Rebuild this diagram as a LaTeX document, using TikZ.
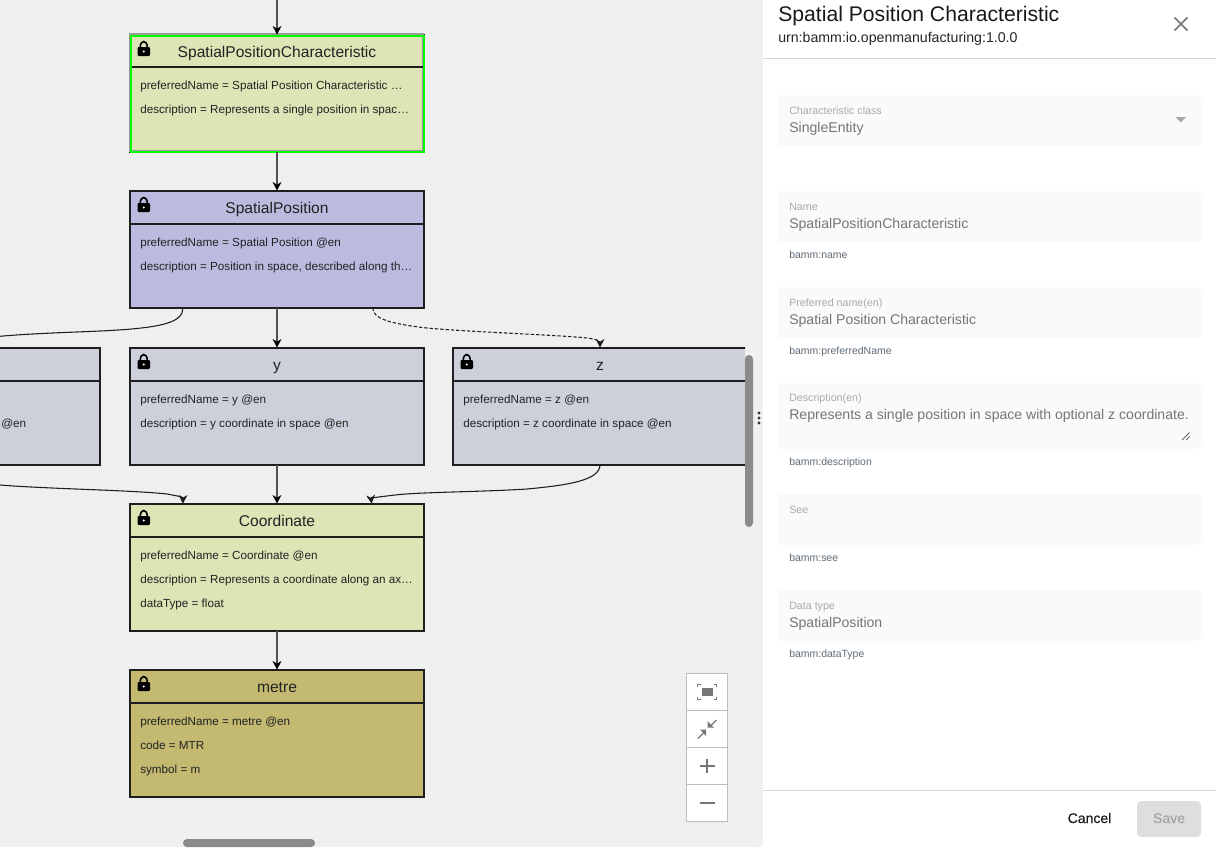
\documentclass[tikz,border=0pt]{standalone}
\usepackage{fontspec}
\setmainfont{Liberation Sans}
\newfontfamily\mediumfont[FakeBold=0.25]{Liberation Sans}
\usetikzlibrary{arrows.meta,calc}
\definecolor{canvasbg}{HTML}{EFEFEF}
\definecolor{stripbg}{HTML}{F0F0F0}
\definecolor{charfill}{HTML}{DDE4B6}
\definecolor{entfill}{HTML}{BBBBE0}
\definecolor{propfill}{HTML}{CDD0DA}
\definecolor{unitfill}{HTML}{C3B971}
\definecolor{edgecol}{HTML}{1E1E1E}
\definecolor{vertcol}{HTML}{505050}
\definecolor{txtcol}{HTML}{222222}
\definecolor{fieldbg}{HTML}{FAFAFA}
\definecolor{lblcol}{HTML}{A9A9A9}
\definecolor{valcol}{HTML}{757575}
\definecolor{hintcol}{HTML}{5F6B75}
\definecolor{rulecol}{HTML}{D6D6D6}
\definecolor{barcol}{HTML}{8A8A8A}
\definecolor{ctlborder}{HTML}{BDBDBD}
\definecolor{ctlicon}{HTML}{777777}
\definecolor{savebg}{HTML}{DEDEDE}
\definecolor{savetx}{HTML}{A3A3A3}
\definecolor{framegray}{HTML}{9A9A9A}
\definecolor{framegreen}{HTML}{00FF00}
\tikzset{
  umlbox/.style={draw=edgecol,line width=1.5pt,inner sep=0pt,outer sep=0pt,minimum width=220.5pt},
  boxtitle/.style={anchor=base,inner sep=0pt,text=txtcol,font=\fontsize{11.7}{14}\selectfont},
  boxprop/.style={anchor=base west,inner sep=0pt,text=txtcol,font=\fontsize{8.77}{11}\selectfont},
  conn/.style={draw=edgecol,line width=0.8pt,-{Stealth[length=6.5pt,width=6.5pt,inset=2pt]}},
  vconn/.style={draw=vertcol,line width=1pt,-{Stealth[length=6.5pt,width=6.5pt,inset=2pt,color=black]}},
  connplain/.style={draw=edgecol,line width=0.8pt},
  field/.style={draw=none,fill=fieldbg,rounded corners=3pt,inner sep=0pt,outer sep=0pt,minimum width=317.25pt},
  flabel/.style={anchor=base west,inner sep=0pt,text=lblcol,font=\fontsize{8}{10}\selectfont},
  fvalue/.style={anchor=base west,inner sep=0pt,text=valcol,font=\fontsize{10.55}{13}\selectfont},
  fhint/.style={anchor=base west,inner sep=0pt,text=hintcol,font=\fontsize{7.85}{9}\selectfont},
  ctlcell/.style={draw=ctlborder,fill=white,line width=0.8pt,minimum width=30.75pt,minimum height=27.75pt,inner sep=0pt,outer sep=0pt},
  ctlline/.style={draw=ctlicon,line width=1.4pt},
}
% name, left, top, height, header height, fill
\newcommand{\umlnode}[6]{%
  \node[umlbox,fill=#6,minimum height=(#4-1)*0.75pt] (#1) at ({#2+148},{#3+#4/2+0.2}) {};
  \draw[edgecol,line width=1.5pt] ({#2+1},{#3+#5}) -- ({#2+295},{#3+#5});
  \fill[black,rounded corners=0.8pt] ({#2+8.5},{#3+13}) rectangle ({#2+21},{#3+22});
  \draw[black,line width=1.2pt] ({#2+11.2},{#3+13.5}) .. controls ({#2+11.2},{#3+5.5}) and ({#2+18.3},{#3+5.5}) .. ({#2+18.3},{#3+13.5});
  \fill[white] ({#2+14.75},{#3+17.5}) circle (1.1);
}
\begin{document}
\begin{tikzpicture}[x=0.75pt,y=-0.75pt]
\useasboundingbox (0,0) rectangle (1216,847);
\fill[white] (0,0) rectangle (1216,847);
\fill[canvasbg] (0,0) rectangle (745,847);
\fill[stripbg] (745,0) rectangle (763,847);

\begin{scope}
\clip (0,0) rectangle (745,847);
\umlnode{spc}{129}{34}{118}{33}{charfill}
\umlnode{sp}{129}{190}{118}{34}{entfill}
\umlnode{px}{-195}{347}{118}{34}{propfill}
\umlnode{py}{129}{347}{118}{34}{propfill}
\umlnode{pz}{452}{347}{118}{34}{propfill}
\umlnode{co}{129}{503}{128}{34}{charfill}
\umlnode{me}{129}{669}{128}{34}{unitfill}
% selection frame
\draw[framegray,line width=1.5pt] (130,34.2) rectangle (423.3,151);
\draw[framegreen,line width=1.5pt] (131.2,35.5) rectangle (424,152);
\draw[edgecol,line width=1.5pt] (132.2,67) -- (423,67);

\node[boxtitle] (spc-title) at (277,57) {SpatialPositionCharacteristic};
\node[boxtitle] (sp-title) at (277,213.3) {SpatialPosition};
\node[boxtitle] (py-title) at (277,370.3) {y};
\node[boxtitle] (pz-title) at (600,370.3) {z};
\node[boxtitle] (co-title) at (277,526.3) {Coordinate};
\node[boxtitle] (me-title) at (277,692.3) {metre};

\node[boxprop] (t1) at (140,89) {preferredName = Spatial Position Characteristic …};
\node[boxprop] (t2) at (140,113) {description = Represents a single position in spac…};
\node[boxprop] (t3) at (140,246) {preferredName = Spatial Position @en};
\node[boxprop] (t4) at (140,270) {description = Position in space, described along th…};
\node[boxprop] (t5) at (1,427) {@en};
\node[boxprop] (t6) at (140,403) {preferredName = y @en};
\node[boxprop] (t7) at (140,427) {description = y coordinate in space @en};
\node[boxprop] (t8) at (463,403) {preferredName = z @en};
\node[boxprop] (t9) at (463,427) {description = z coordinate in space @en};
\node[boxprop] (t10) at (140,559) {preferredName = Coordinate @en};
\node[boxprop] (t11) at (140,583) {description = Represents a coordinate along an ax…};
\node[boxprop] (t12) at (140,607) {dataType = float};
\node[boxprop] (t13) at (140,725) {preferredName = metre @en};
\node[boxprop] (t14) at (140,749) {code = MTR};
\node[boxprop] (t15) at (140,773) {symbol = m};

\coordinate (topin) at (spc.north |- 0,-2);
\coordinate (spl) at ($(sp.south west)!0.18!(sp.south east)$);
\coordinate (spr) at ($(sp.south west)!0.826!(sp.south east)$);
\coordinate (col) at ($(co.north west)!0.18!(co.north east)$);
\coordinate (cor) at ($(co.north west)!0.822!(co.north east)$);

\draw[vconn] (topin) -- (spc.north);
\draw[vconn] (spc.south) -- (sp.north);
\draw[vconn] (sp.south) -- (py.north);
\draw[vconn] (py.south) -- (co.north);
\draw[vconn] (co.south) -- (me.north);
\draw[connplain] (spl) .. controls (183,322) and (165,328) .. (100,331) .. controls (60,333) and (-47,335) .. (px.north);
\draw[conn,dashed,dash pattern=on 2.5pt off 1.5pt] (spr) .. controls (372,319) and (392,324) .. (427,328) .. controls (470,332) and (560,335) .. (587,338) .. controls (596,339) and (600,341) .. (pz.north);
\draw[conn] (pz.south) .. controls (600,480) and (570,485) .. (527,489) .. controls (480,492) and (420,492) .. (395,495) .. controls (378,497) and (371,498) .. (cor);
\draw[conn] (px.south) .. controls (-47,475) and (-20,483) .. (0,485) .. controls (50,489) and (130,490) .. (167,494) .. controls (178,496) and (183,497) .. (col);
\end{scope}

% scrollbars
\fill[barcol,rounded corners=3pt] (745,355) rectangle (753,527);
\fill[barcol,rounded corners=3pt] (183,839) rectangle (315,847);
% split handle
\foreach \hy in {413,418,423} \fill[black!80] (759,\hy) circle (1.6);

% zoom controls
\node[ctlcell] (zfit) at (707,692) {};
\node[ctlcell] (zshrink) at (707,729) {};
\node[ctlcell] (zin) at (707,766) {};
\node[ctlcell] (zout) at (707,803) {};
\fill[ctlicon] (702,688) rectangle (713,696);
\draw[ctlicon,line width=1pt] (697.5,687) -- (697.5,684.5) -- (700.5,684.5);
\draw[ctlicon,line width=1pt] (716.5,687) -- (716.5,684.5) -- (713.5,684.5);
\draw[ctlicon,line width=1pt] (697.5,697) -- (697.5,699.5) -- (700.5,699.5);
\draw[ctlicon,line width=1pt] (716.5,697) -- (716.5,699.5) -- (713.5,699.5);
\draw[ctlicon,line width=1pt] (698,738.5) -- (704,732.5);
\draw[ctlicon,line width=1pt] (716.5,720) -- (710.5,726);
\fill[ctlicon] (700,729.5) -- (706,729.5) -- (706,736) -- cycle;
\fill[ctlicon] (707.5,721) -- (714,727.5) -- (707.5,727.5) -- cycle;
\draw[ctlline] (700,766) -- (714.5,766);
\draw[ctlline] (707.2,759) -- (707.2,773);
\draw[ctlline] (700,803) -- (714.5,803);

% side panel
\node[anchor=base west,inner sep=0pt,font=\fontsize{15.87}{18}\selectfont,text=black!90] (ptitle) at (778,21) {Spatial Position Characteristic};
\node[anchor=base west,inner sep=0pt,font=\fontsize{10.62}{13}\selectfont,text=black!85] (purn) at (778,42) {urn:bamm:io.openmanufacturing:1.0.0};
\draw[valcol,line width=1.3pt] (1174.5,17.5) -- (1187.5,30.5) (1187.5,17.5) -- (1174.5,30.5);
\draw[rulecol,line width=0.75pt] (763,58.5) -- (1216,58.5);
\draw[rulecol,line width=0.75pt] (763,790.5) -- (1216,790.5);

\node[field,minimum height=38.25pt] (f1) at (989.5,120.5) {};
\node[flabel] (f1l) at (789,114) {Characteristic class};
\node[fvalue] (f1v) at (789,132) {SingleEntity};
\fill[lblcol] (1175.5,117) -- (1186,117) -- (1180.75,122.5) -- cycle;

\node[field,minimum height=38.25pt] (f2) at (989.5,216.5) {};
\node[flabel] (f2l) at (789,210) {Name};
\node[fvalue] (f2v) at (789,228) {SpatialPositionCharacteristic};
\node[fhint] (f2h) at (789,258) {bamm:name};

\node[field,minimum height=38.25pt] (f3) at (989.5,312.5) {};
\node[flabel] (f3l) at (789,306) {Preferred name(en)};
\node[fvalue] (f3v) at (789,324) {Spatial Position Characteristic};
\node[fhint] (f3h) at (789,354) {bamm:preferredName};

\node[field,minimum height=49.5pt] (f4) at (989.5,416) {};
\node[flabel] (f4l) at (789,401) {Description(en)};
\node[fvalue] (f4v) at (789,419) {Represents a single position in space with optional z coordinate.};
\node[fhint] (f4h) at (789,465) {bamm:description};
\draw[black!70,line width=0.5pt] (1182,440) -- (1189.5,432.5) (1186,440) -- (1189.5,436.5);

\node[field,minimum height=38.25pt] (f5) at (989.5,519.5) {};
\node[flabel] (f5l) at (789,513) {See};
\node[fhint] (f5h) at (789,561) {bamm:see};

\node[field,minimum height=38.25pt] (f6) at (989.5,615.5) {};
\node[flabel] (f6l) at (789,609) {Data type};
\node[fvalue] (f6v) at (789,627) {SpatialPosition};
\node[fhint] (f6h) at (789,657) {bamm:dataType};

\node[anchor=base,inner sep=0pt,font=\mediumfont\fontsize{10.5}{13}\selectfont,text=black!90] (bcancel) at (1089.5,823) {Cancel};
\node[fill=savebg,rounded corners=3pt,inner sep=0pt,outer sep=0pt,minimum width=48pt,minimum height=27pt] (bsave) at (1169,819) {};
\node[anchor=base,inner sep=0pt,font=\mediumfont\fontsize{10.5}{13}\selectfont,text=savetx] (bsavet) at (1169,823) {Save};
\end{tikzpicture}
\end{document}
